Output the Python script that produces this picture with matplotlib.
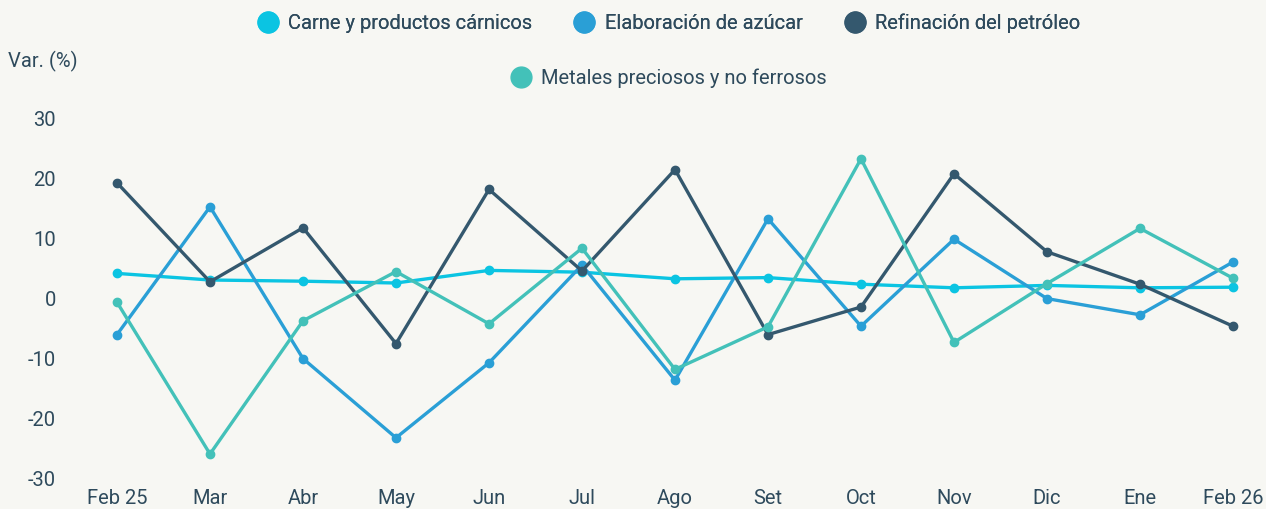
import matplotlib.pyplot as plt
from matplotlib.lines import Line2D

# meses y series (variación %)
meses = ['Feb 25', 'Mar', 'Abr', 'May', 'Jun', 'Jul', 'Ago', 'Set', 'Oct', 'Nov', 'Dic', 'Ene', 'Feb 26']
carne = [4.1, 3.0, 2.8, 2.5, 4.6, 4.3, 3.2, 3.4, 2.3, 1.7, 2.1, 1.7, 1.8]
azucar = [-6.1, 15.2, -10.1, -23.3, -10.8, 5.5, -13.7, 13.2, -4.7, 9.8, -0.1, -2.8, 6.0]
petroleo = [19.2, 2.7, 11.7, -7.6, 18.1, 4.5, 21.4, -6.1, -1.5, 20.7, 7.7, 2.3, -4.7]
metales = [-0.7, -26.0, -3.8, 4.4, -4.3, 8.3, -11.9, -4.8, 23.2, -7.4, 2.4, 11.6, 3.3]

nombres = ['Carne y productos cárnicos', 'Elaboración de azúcar',
           'Refinación del petróleo', 'Metales preciosos y no ferrosos']
colores = ['#0bc4e2', '#2a9fd6', '#34586e', '#43c1b9']
series = [carne, azucar, petroleo, metales]

bg = '#f7f7f3'
txt = '#2e4a5c'
plt.rcParams['font.family'] = ['Roboto', 'DejaVu Sans']
plt.rcParams['axes.unicode_minus'] = False
fs = 14.5

W, H = 1266, 509
fig = plt.figure(figsize=(W / 100, H / 100), dpi=100, facecolor=bg)
ax = fig.add_axes([117 / W, (H - 478) / H, (1233 - 117) / W, 360 / H])
ax.set_facecolor(bg)

x = list(range(len(meses)))
for s, c in zip(series, colores):
    ax.plot(x, s, color=c, lw=2.4, marker='o', ms=6, clip_on=False, zorder=3)

ax.set_xlim(0, len(meses) - 1)
ax.set_ylim(-30, 30)
ax.set_yticks([-30, -20, -10, 0, 10, 20, 30])
ax.set_xticks(x)
ax.set_xticklabels(meses)
for sp in ax.spines.values():
    sp.set_visible(False)
ax.tick_params(axis='y', length=0, pad=44, labelsize=fs, labelcolor=txt)
ax.tick_params(axis='x', length=0, pad=8, labelsize=fs, labelcolor=txt)

fig.text(8 / W, 1 - 61 / H, 'Var. (%)', fontsize=fs, color=txt, va='center', ha='left')

handles = [Line2D([], [], ls='none', marker='o', ms=15, color=c) for c in colores]
leg1 = fig.legend(handles[:3], nombres[:3], loc='center', bbox_to_anchor=(668 / W, 1 - 23 / H),
                  ncol=3, frameon=False, fontsize=fs, labelcolor=txt, handletextpad=0.4,
                  columnspacing=2.0, handlelength=1.2)
fig.add_artist(leg1)
fig.legend(handles[3:], nombres[3:], loc='center', bbox_to_anchor=(668 / W, 1 - 78 / H),
           frameon=False, fontsize=fs, labelcolor=txt, handletextpad=0.4, handlelength=1.2)

fig.savefig('out.png', dpi=100, facecolor=bg)
